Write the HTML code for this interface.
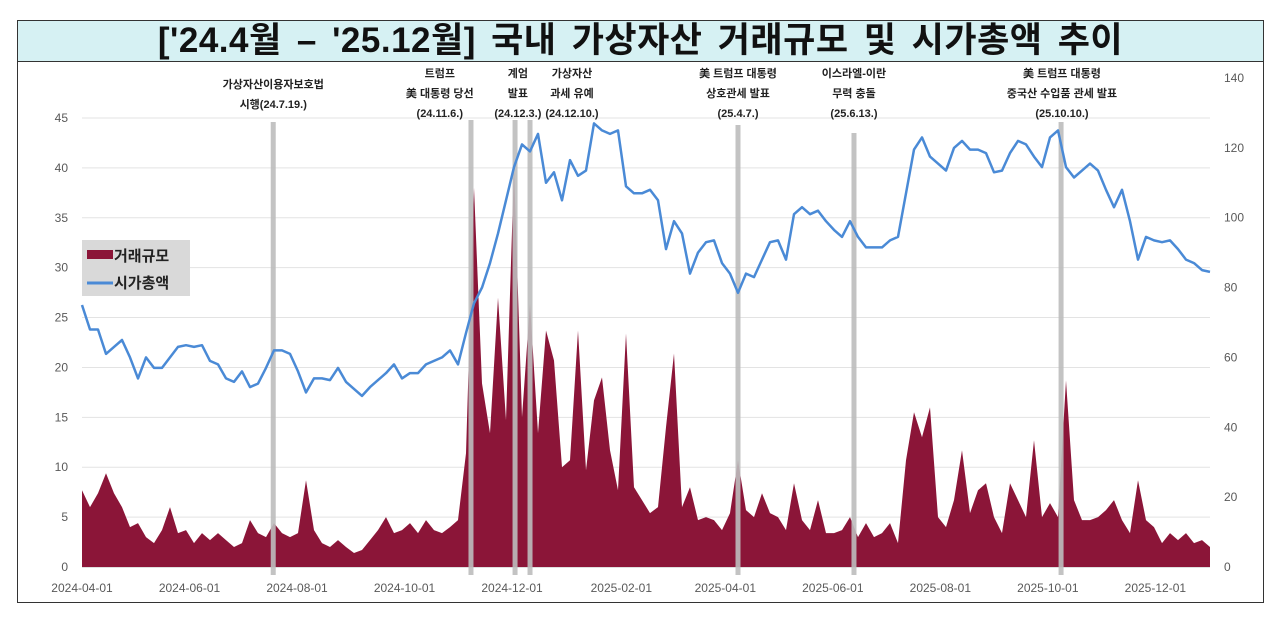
<!DOCTYPE html>
<html><head><meta charset="utf-8">
<style>
body{margin:0;background:#fff;width:1280px;height:620px;overflow:hidden;font-family:"Liberation Sans","Noto Sans CJK KR",sans-serif;}
#frame{position:absolute;left:17px;top:20px;width:1247px;height:583px;border:1.5px solid #333;box-sizing:border-box;}
#title{position:absolute;left:0;top:0;width:100%;height:40px;background:#d6f1f3;border-bottom:1.5px solid #333;text-align:center;font-size:35px;font-weight:bold;line-height:40px;color:#111;letter-spacing:0.5px;word-spacing:5px;}
</style></head>
<body>
<div id="frame">
<div id="title">['24.4월 – '25.12월] 국내 가상자산 거래규모 및 시가총액 추이</div>
</div>
<svg id="chart" width="1280" height="620" style="position:absolute;left:0;top:0"></svg>
<script>
const volume=[7.7,6,7.4,9.4,7.4,6,4,4.4,3,2.4,3.7,6,3.4,3.7,2.4,3.4,2.7,3.4,2.7,2,2.4,4.7,3.4,3,4.4,3.4,3,3.4,8.7,3.7,2.4,2,2.7,2,1.4,1.7,2.7,3.7,5,3.4,3.7,4.4,3.4,4.7,3.7,3.4,4,4.7,11.4,38,18.4,13.4,27,14.7,40,15,26.4,13.4,23.7,20.7,10,10.7,23.7,9.7,16.7,19,11.7,7.7,23.4,8,6.7,5.4,6,14,21.4,6,8,4.7,5,4.7,3.7,5.4,10.7,5.7,5,7.4,5.4,5,3.7,8.4,4.7,3.7,6.7,3.4,3.4,3.7,5,3,4.4,3,3.4,4.4,2.4,10.7,15.5,13,16,5,4,6.7,11.7,5.4,7.7,8.4,5,3.4,8.4,6.7,5,12.7,5,6.4,5,18.7,6.7,4.7,4.7,5,5.7,6.7,4.7,3.4,8.7,4.7,4,2.4,3.4,2.7,3.4,2.4,2.7,2];
const marketCap=[75,68,68,61,63,65,60,54,60,57,57,60,63,63.5,63,63.5,59,58,54,53,56,51.5,52.5,57,62,62,61,56,50,54,54,53.5,57,53,51,49,51.5,53.5,55.5,58,54,55.5,55.5,58,59,60,62,58,67,75.5,80,87,95.5,105,114.5,121,119,124,110,113,105,116.5,112,113.5,127,125,124,125,109,107,107,108,105,91,99,95.5,84,90,93,93.5,87,84,78.5,84,83,88,93,93.5,88,101,103,101,102,99,96.5,94.5,99,94.5,91.5,91.5,91.5,93.5,94.5,107,119.5,123,117.5,115.5,113.5,120,122,119.5,119.5,118.5,113,113.5,118.5,122,121,117.5,114.5,123,125,114.5,111.5,113.5,115.5,113.5,108,103,108,99,88,94.5,93.5,93,93.5,91,88,87,85,84.5];
const leftTicks=[0,5,10,15,20,25,30,35,40,45];
const rightTicks=[0,20,40,60,80,100,120,140];
const xTickLabels=["2024-04-01","2024-06-01","2024-08-01","2024-10-01","2024-12-01","2025-02-01","2025-04-01","2025-06-01","2025-08-01","2025-10-01","2025-12-01"];
const xTickDays=[0,61,122,183,244,306,365,426,487,548,609];
const eventDays=[108.5,220.7,245.7,254.2,372.2,438,555.5];
const eventLabelDays=[108.5,203,247.3,278],
      eventLabelDays2=[372.2,438,556];
const eventLabels=[["가상자산이용자보호법","시행(24.7.19.)"],["트럼프","美 대통령 당선","(24.11.6.)"],["계엄","발표","(24.12.3.)"],["가상자산","과세 유예","(24.12.10.)"],["美 트럼프 대통령","상호관세 발표","(25.4.7.)"],["이스라엘-이란","무력 충돌","(25.6.13.)"],["美 트럼프 대통령","중국산 수입품 관세 발표","(25.10.10.)"]];
const eventTop=[122,120,120,120,125,133,122];
const X0=82,X1=1210,Y0=567;
const totalDays=640;
function xDay(d){return X0+(X1-X0)*d/totalDays;}
function xIdx(i,n){return X0+(X1-X0)*i/(n-1);}
function yL(v){return Y0-v*(Y0-118)/45;}
function yR(v){return Y0-v*(Y0-78)/140;}
const svg=document.getElementById('chart');
const NS='http://www.w3.org/2000/svg';
function mk(t,a,p){const e=document.createElementNS(NS,t);for(const k in a)e.setAttribute(k,a[k]);(p||svg).appendChild(e);return e;}
leftTicks.forEach(v=>{
 const l=mk('line',{x1:X0,x2:X1,y1:yL(v),y2:yL(v),stroke:v===0?'#bfbfbf':'#e3e3e3','stroke-width':1});
 
 
 const t=mk('text',{x:68,y:yL(v)+4,'text-anchor':'end','font-size':12,fill:'#595959'});
 t.textContent=v;
 
 
});
rightTicks.forEach(v=>{
 const t=mk('text',{x:1224,y:yR(v)+4,'font-size':12,fill:'#595959'});
 t.textContent=v;
 
 
});
xTickLabels.forEach((s,i)=>{
 const t=mk('text',{x:xDay(xTickDays[i]),y:592,'text-anchor':'middle','font-size':12,fill:'#595959'});
 t.textContent=s;
 
 
});
let d='M'+X0+' '+Y0;
volume.forEach((v,i)=>{d+=' L'+xIdx(i,volume.length).toFixed(1)+' '+yL(v).toFixed(1);});
d+=' L'+X1+' '+Y0+' Z';
const area=mk('path',{d:d,fill:'#8b1538'});


const labelDays=eventLabelDays.concat(eventLabelDays2);
eventDays.forEach((dd,i)=>{
 const l=mk('line',{x1:xDay(dd),x2:xDay(dd),y1:eventTop[i],y2:Y0+8,stroke:'#bdbdbd','stroke-width':5,opacity:0.9});
 
 
 const lines=eventLabels[i];
 const base=lines.length===2?88:77;
 lines.forEach((s,j)=>{
  const t=mk('text',{x:xDay(labelDays[i]),y:base+j*20,'text-anchor':'middle','font-size':11,'font-weight':'bold',fill:'#222'});
  t.textContent=s;
  
  
 });
});
let p='';
marketCap.forEach((v,i)=>{p+=(i?' L':'M')+xIdx(i,marketCap.length).toFixed(1)+' '+yR(v).toFixed(1);});
const ln=mk('path',{d:p,fill:'none',stroke:'#4a8ad6','stroke-width':2.5,'stroke-linejoin':'round'});


const lg=mk('g',{});


mk('rect',{x:82,y:240,width:108,height:56,fill:'#d9d9d9'},lg);
mk('rect',{x:87,y:250,width:26,height:9,fill:'#8b1538'},lg);
const t1=mk('text',{x:114,y:261,'font-size':15,'font-weight':'bold',fill:'#222'},lg);
t1.textContent='거래규모';


mk('line',{x1:87,x2:113,y1:283,y2:283,stroke:'#4a8ad6','stroke-width':3},lg);
const t2=mk('text',{x:114,y:288,'font-size':15,'font-weight':'bold',fill:'#222'},lg);
t2.textContent='시가총액';


</script>
</body></html>
